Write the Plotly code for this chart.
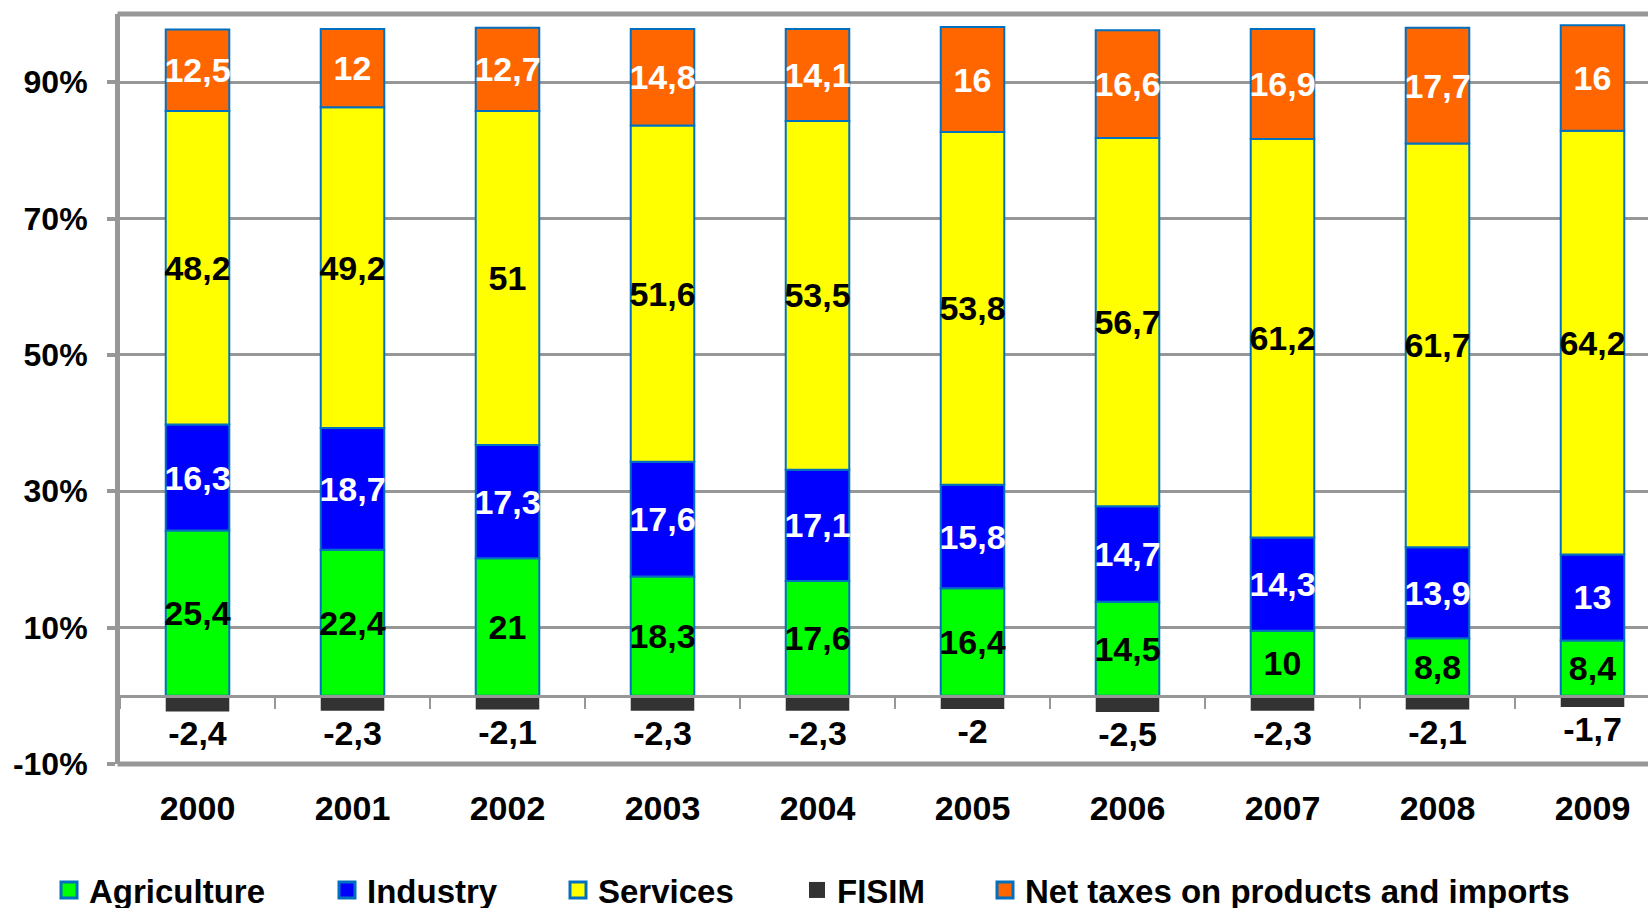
import plotly.graph_objects as go

years = ["2000", "2001", "2002", "2003", "2004", "2005", "2006", "2007", "2008", "2009"]
agriculture = [25.4, 22.4, 21, 18.3, 17.6, 16.4, 14.5, 10, 8.8, 8.4]
industry = [16.3, 18.7, 17.3, 17.6, 17.1, 15.8, 14.7, 14.3, 13.9, 13]
services = [48.2, 49.2, 51, 51.6, 53.5, 53.8, 56.7, 61.2, 61.7, 64.2]
fisim = [-2.4, -2.3, -2.1, -2.3, -2.3, -2, -2.5, -2.3, -2.1, -1.7]
net_taxes = [12.5, 12, 12.7, 14.8, 14.1, 16, 16.6, 16.9, 17.7, 16]
y_tick_vals = [-10, 10, 30, 50, 70, 90]
y_tick_text = ["-10%", "10%", "30%", "50%", "70%", "90%"]

FONT = "Liberation Sans, Arial, sans-serif"
OUTLINE = "#0070C0"
GRAY = "#979797"

W, H = 1648, 908
ML, MR, MT, MB = 120, 0, 14, 144
PITCH = 155  # px per category

series = [
    ("Agriculture", agriculture, "#00FF00", "black", OUTLINE),
    ("Industry", industry, "#0000FF", "white", OUTLINE),
    ("Services", services, "#FFFF00", "black", OUTLINE),
    ("FISIM", fisim, "#333333", "black", None),
    ("Net taxes on products and imports", net_taxes, "#FF6600", "white", OUTLINE),
]

# Excel-style 100% stacked: each value divided by the sum of absolute values
abs_totals = [sum(abs(s[1][i]) for s in series) for i in range(len(years))]


def norm(vals):
    return [v / t * 100 for v, t in zip(vals, abs_totals)]


def lab(v):
    return f"{v:g}".replace(".", ",")


fig = go.Figure()
for name, vals, color, tcolor, outline in series:
    yv = norm(vals)
    is_neg = name == "FISIM"
    tfont = dict(family=FONT, size=34, color=tcolor, weight="bold")
    fig.add_trace(go.Bar(
        x=years, y=yv, name=name, width=0.41,
        marker=dict(color=color, line=dict(color=outline or color, width=0 if outline is None else 2)),
        text=[lab(v) for v in vals],
        textposition="outside" if is_neg else "inside",
        insidetextanchor="middle", textangle=0, constraintext="none",
        insidetextfont=tfont, outsidetextfont=tfont, textfont=tfont,
        cliponaxis=False,
        showlegend=False, hoverinfo="skip",
    ))

# legend entries (one legend per item, positioned like the reference)
legend_text_start = [89, 367, 598, 837, 1025]
layout_legends = {}
for i, (name, vals, color, tcolor, outline) in enumerate(series):
    key = "legend" if i == 0 else f"legend{i + 1}"
    fig.add_trace(go.Scatter(
        x=[None], y=[None], mode="markers", name=name, legend=key,
        marker=dict(symbol="square", size=16 if outline else 19, color=color,
                    line=dict(color=outline or color, width=3 if outline else 0)),
        hoverinfo="skip",
    ))
    layout_legends[key] = dict(
        x=(legend_text_start[i] - 40) / W, xref="container", xanchor="left",
        y=1 - 890 / H, yref="container", yanchor="middle", orientation="h",
        font=dict(family=FONT, size=33, color="black", weight="bold"),
        bgcolor="rgba(0,0,0,0)", borderwidth=0, itemwidth=30,
    )

plot_w = W - ML - MR
y_min, y_max = -10, 100

fig.update_layout(
    width=W, height=H, autosize=False,
    margin=dict(l=ML, r=MR, t=MT, b=MB, pad=0, autoexpand=False),
    barmode="relative",
    paper_bgcolor="white", plot_bgcolor="white",
    shapes=[
        dict(type="line", xref="paper", yref="paper", x0=-2.5 / plot_w, x1=1, y0=1, y1=1,
             line=dict(color=GRAY, width=5)),
        dict(type="line", xref="paper", yref="paper", x0=-2.5 / plot_w, x1=1, y0=0, y1=0,
             line=dict(color=GRAY, width=5)),
    ],
    xaxis=dict(
        type="category", categoryorder="array", categoryarray=years,
        range=[-0.5, -0.5 + plot_w / PITCH],
        anchor="free", position=(0 - y_min) / (y_max - y_min),
        showline=True, linecolor=GRAY, linewidth=3,
        ticks="outside", tickson="boundaries", ticklen=11, tickwidth=2, tickcolor=GRAY,
        tickfont=dict(family=FONT, size=34, color="black", weight="bold"),
        ticklabelstandoff=81, showgrid=False, zeroline=False,
    ),
    yaxis=dict(
        range=[y_min, y_max], tickvals=y_tick_vals, ticktext=y_tick_text,
        showgrid=True, gridcolor=GRAY, gridwidth=3, zeroline=False,
        showline=True, linecolor=GRAY, linewidth=5,
        ticks="outside", ticklen=8, tickwidth=4, tickcolor=GRAY,
        tickfont=dict(family=FONT, size=32, color="black", weight="bold"),
        ticklabelstandoff=13,
    ),
    **layout_legends,
)

fig.write_html("out.html")
